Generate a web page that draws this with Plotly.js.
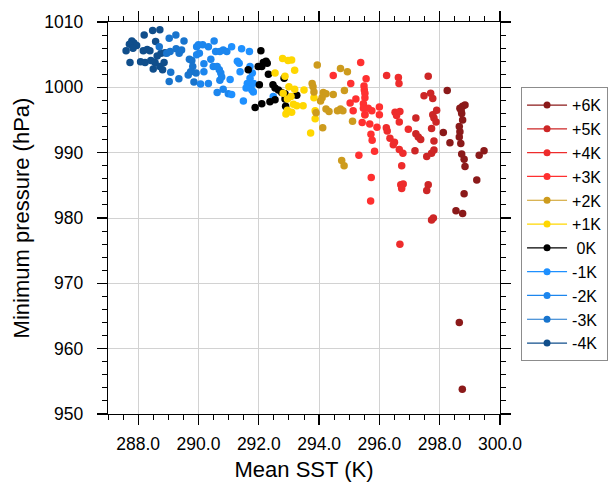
<!DOCTYPE html>
<html>
<head>
<meta charset="utf-8">
<script src="https://cdn.plot.ly/plotly-3.0.1.min.js"></script>
<style>
  html, body { margin: 0; padding: 0; background: #ffffff; }
  #chart { width: 613px; height: 487px; }
</style>
</head>
<body>
<div id="chart"></div>
<script>
// Mean SST (K) vs. minimum central pressure (hPa) for each SST perturbation experiment

const sstM4 = [287.60, 287.73, 287.79, 287.86, 287.95, 287.71, 288.20, 288.48, 288.72, 288.58, 288.17, 288.30, 288.39,
               288.08, 288.23, 288.42, 288.56, 288.50, 288.72, 288.81, 288.86, 288.76, 288.89, 287.83, 288.63];
const pslM4 = [1005.6, 1003.8, 1007.1, 1006.8, 1006.4, 1006.6, 1008.0, 1008.7, 1008.8, 1007.0, 1005.6, 1005.8, 1005.6,
               1003.9, 1003.8, 1004.1, 1003.8, 1002.8, 1003.2, 1002.7, 1003.8, 1005.2, 1005.3, 1006.0, 1004.8];

const sstM3 = [288.70, 288.95, 289.03, 289.06, 289.08, 289.03, 289.25, 289.26, 289.36, 289.44, 289.35, 289.52, 289.70,
               289.78, 289.81, 289.66, 289.74, 289.92, 289.85];
const pslM3 = [1006.2, 1005.2, 1007.5, 1005.5, 1002.3, 1000.9, 1008.0, 1005.9, 1005.2, 1005.7, 1001.3, 1007.1, 1004.3,
               1004.1, 1003.2, 1001.9, 1002.4, 1002.2, 1000.8];

const sstM2 = [289.94, 290.00, 289.94, 290.03, 290.07, 290.14, 290.18, 290.18, 290.33, 290.33, 290.41, 290.52, 290.57,
               290.49, 290.62, 290.71, 290.82, 290.94, 290.69, 290.74, 290.77, 290.71, 290.62, 290.82, 290.99];
const pslM2 = [1006.2, 1006.5, 1005.0, 1005.2, 1000.5, 1006.5, 1003.6, 1002.4, 1006.2, 1000.6, 1004.3, 1007.1, 1005.5,
               1003.2, 1003.2, 1005.5, 1005.7, 1005.5, 1002.7, 1002.2, 1001.6, 1001.1, 999.2, 999.7, 999.0];

const sstM1 = [291.10, 291.43, 291.69, 291.05, 291.29, 291.35, 291.38, 291.71, 291.79, 291.71, 291.62, 291.69, 291.77,
               291.82, 291.58, 291.82, 291.10, 291.49, 292.48];
const pslM1 = [1006.2, 1005.9, 1005.5, 1001.2, 1004.0, 1003.7, 1002.4, 1003.2, 1002.2, 1001.4, 1000.6, 1000.1, 999.6,
               999.3, 999.9, 1000.6, 998.9, 997.9, 998.6];

const sst0 = [292.07, 292.15, 292.24, 292.28, 291.98, 292.10, 291.65, 292.32, 292.02, 292.84, 292.47, 292.54, 292.65,
              292.76, 292.87, 293.26, 292.87, 292.54, 292.37, 292.10, 291.88, 292.89];
const psl0 = [1005.6, 1003.8, 1004.0, 1003.7, 1003.2, 1003.2, 1002.7, 1002.0, 1000.4, 1001.4, 1000.4, 999.9, 999.6,
              999.2, 999.0, 998.8, 998.2, 998.1, 997.8, 997.5, 996.9, 997.1];

const sstP1 = [292.79, 292.97, 293.09, 293.19, 292.54, 292.87, 293.00, 293.19, 293.50, 292.81, 293.07, 292.95, 293.15,
               293.26, 293.47, 292.95, 292.90, 293.09, 293.83, 293.87, 293.87, 293.72];
const pslP1 = [1004.4, 1004.1, 1004.2, 1002.6, 1002.2, 1001.7, 1000.1, 999.7, 999.6, 999.1, 998.6, 998.2, 997.4,
               997.2, 997.2, 996.5, 995.9, 996.2, 998.4, 996.4, 995.2, 993.0];

const sstP2 = [293.94, 294.71, 294.94, 293.77, 293.80, 293.83, 294.14, 294.23, 294.47, 294.84, 294.05, 294.10, 294.23,
               294.33, 294.61, 294.71, 294.79, 293.90, 295.11, 294.12, 295.52, 294.75, 294.83];
const pslP2 = [1003.4, 1002.9, 1002.4, 1000.6, 1000.1, 999.3, 999.2, 999.0, 998.9, 999.5, 997.9, 998.4, 996.7,
               996.3, 996.4, 996.7, 996.4, 996.1, 994.8, 993.8, 995.8, 988.8, 988.0];

const sstP3 = [294.47, 295.05, 295.38, 295.56, 295.49, 295.50, 295.52, 295.22, 295.52, 295.03, 295.47, 295.47, 295.63,
               295.75, 296.00, 296.00, 295.13, 295.52, 295.43, 295.68, 295.92, 295.72, 295.76, 295.84, 295.32, 295.73, 295.71];
const pslP3 = [1001.8, 1000.6, 1003.8, 1001.3, 1000.2, 999.6, 999.1, 998.2, 998.4, 997.6, 997.5, 996.8, 996.8,
               996.4, 997.0, 995.8, 996.4, 995.8, 994.6, 994.4, 993.9, 992.8, 991.9, 990.2, 989.6, 986.2, 982.6];

const sstP4 = [296.24, 296.63, 296.65, 296.52, 296.57, 296.68, 296.66, 296.23, 296.26, 296.35, 296.50, 296.46, 296.66,
               296.78, 296.74, 296.71, 296.79, 296.74, 296.68, 296.96];
const pslP4 = [1001.8, 1001.5, 1000.6, 996.2, 995.7, 996.3, 994.7, 993.8, 993.3, 992.2, 991.6, 991.2, 990.5,
               989.9, 988.0, 985.1, 985.2, 984.5, 976.0, 993.6];

const sstP5 = [297.21, 297.21, 297.29, 297.37, 297.18, 297.57, 297.73, 297.81, 297.81, 297.73, 297.81, 297.77, 297.90,
               297.88, 297.62, 297.48, 297.70, 297.77, 297.62, 297.57, 297.73, 297.79];
const pslP5 = [995.3, 992.9, 992.4, 992.0, 990.3, 989.4, 989.9, 990.4, 991.8, 993.7, 995.3, 995.8, 996.5,
               994.7, 1001.7, 998.7, 999.1, 998.3, 985.1, 984.2, 979.7, 980.0];

const sstP6 = [298.25, 298.12, 298.34, 298.67, 298.76, 298.84, 298.73, 298.76, 298.65, 298.67, 298.65, 298.70, 298.73,
               298.81, 298.84, 299.31, 299.47, 299.23, 298.81, 298.54, 298.76, 298.65, 298.75, 298.71];
const pslP6 = [999.5, 993.1, 991.5, 996.8, 997.1, 997.3, 996.0, 995.0, 994.0, 993.2, 992.4, 991.4, 989.8,
               989.0, 987.9, 989.6, 990.3, 985.8, 983.7, 981.1, 980.7, 964.0, 953.8, 996.5];

// Experiments listed warm to cold (legend order)
const expNames  = ['+6K', '+5K', '+4K', '+3K', '+2K', '+1K', '\u00a00K', '-1K', '-2K', '-3K', '-4K'];
const expColors = ['#8b1a1a', '#cd2626', '#ee2c2c', '#ff3030', '#cd9b1d', '#ffd700', '#000000',
                   '#1e90ff', '#1c86ee', '#1874cd', '#104e8b'];
const expSST = [sstP6, sstP5, sstP4, sstP3, sstP2, sstP1, sst0, sstM1, sstM2, sstM3, sstM4];
const expPSL = [pslP6, pslP5, pslP4, pslP3, pslP2, pslP1, psl0, pslM1, pslM2, pslM3, pslM4];

const FONT = 'Liberation Sans, Arial, Helvetica, sans-serif';
const traces = [];

// Legend entries (line + marker), warm to cold
expNames.forEach((name, i) => {
  traces.push({
    x: [null], y: [null],
    type: 'scatter', mode: 'lines+markers',
    name: name, legendgroup: 'g' + i,
    line: { color: expColors[i], width: 1.2 },
    marker: { color: expColors[i], size: 7 },
    hoverinfo: 'skip'
  });
});

// Scatter points, drawn cold first so the warmer runs sit on top
for (let i = expNames.length - 1; i >= 0; i--) {
  traces.push({
    x: expSST[i], y: expPSL[i],
    type: 'scatter', mode: 'markers',
    name: expNames[i], showlegend: false,
    marker: { color: expColors[i], size: 7.5, line: { width: 0 } }
  });
}

const axisCommon = {
  showline: true, linecolor: '#000', linewidth: 1.2, mirror: 'ticks',
  ticks: 'outside', ticklen: 10, tickwidth: 1.2, tickcolor: '#000',
  showgrid: true, gridcolor: '#d2d2d2', gridwidth: 1,
  zeroline: false, automargin: false,
  tickfont: { family: FONT, size: 17.5, color: '#000' }
};

const layout = {
  width: 613, height: 487,
  margin: { l: 108, r: 113, t: 22, b: 73, pad: 0 },
  paper_bgcolor: '#ffffff', plot_bgcolor: '#ffffff',
  font: { family: FONT, color: '#000' },
  showlegend: true,
  xaxis: Object.assign({}, axisCommon, {
    range: [287, 300], tick0: 288, dtick: 2, tickformat: '.1f',
    ticklabelstandoff: 4,
    minor: { ticks: 'outside', ticklen: 5, tickwidth: 1, tickcolor: '#000', tick0: 287, dtick: 0.5, showgrid: false },
    title: { text: 'Mean SST (K)', font: { family: FONT, size: 22, color: '#000' }, standoff: 8 }
  }),
  yaxis: Object.assign({}, axisCommon, {
    range: [950, 1010], tick0: 950, dtick: 10,
    ticklabelstandoff: 10,
    minor: { ticks: 'outside', ticklen: 5, tickwidth: 1, tickcolor: '#000', tick0: 950, dtick: 2, showgrid: false },
    title: { text: 'Minimum pressure (hPa)', font: { family: FONT, size: 22, color: '#000' }, standoff: 8 }
  }),
  legend: {
    xref: 'container', yref: 'container',
    x: 0.850, y: 0.821, xanchor: 'left', yanchor: 'top',
    maxheight: 320,
    bgcolor: '#ffffff', bordercolor: '#8c8c8c', borderwidth: 1,
    font: { family: FONT, size: 16, color: '#000' },
    tracegroupgap: 0, itemwidth: 40,
    traceorder: 'normal'
  }
};

Plotly.newPlot('chart', traces, layout, { displayModeBar: false, staticPlot: true });
</script>
</body>
</html>
